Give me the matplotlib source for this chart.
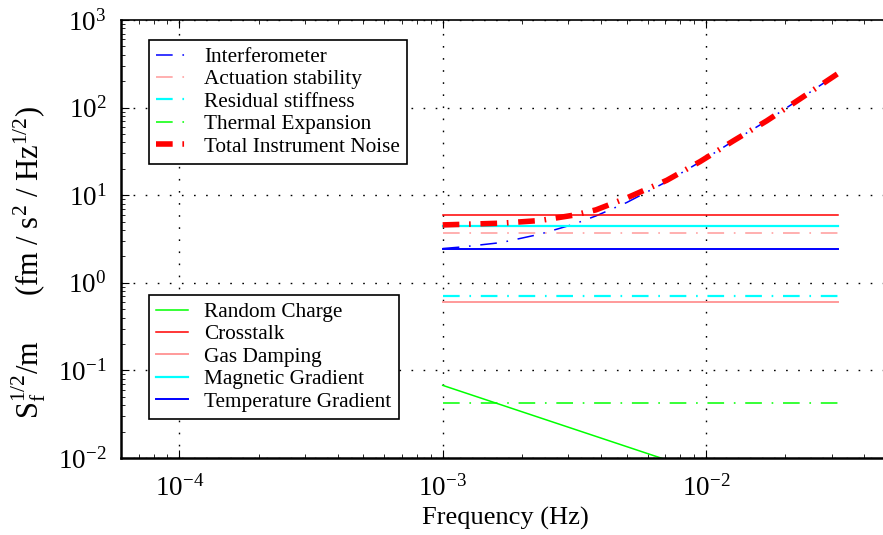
import matplotlib
matplotlib.use("Agg")
import matplotlib.pyplot as plt
from matplotlib.ticker import LogLocator, NullFormatter

plt.rcParams["font.family"] = ["Liberation Serif", "DejaVu Serif"]
plt.rcParams["mathtext.fontset"] = "custom"
plt.rcParams["mathtext.rm"] = "Liberation Serif"
plt.rcParams["mathtext.it"] = "Liberation Serif:italic"
plt.rcParams["lines.scale_dashes"] = False

# frequency band of the flat noise terms (Hz)
band = [1e-3, 3.16e-2]

# upper group (instrument contributions)
freq_ifo = [1e-3, 1.19e-3, 1.67e-3, 2.34e-3, 3.15e-3, 3.82e-3, 5e-3,
            7.1e-3, 9.5e-3, 1.27e-2, 1.7e-2, 2.27e-2, 3.16e-2]
interferometer = [2.46, 2.57, 2.88, 3.59, 4.67, 5.8, 8.25,
                  14.3, 24.0, 41.5, 70.4, 125, 243]
actuation = [3.7, 3.7]
residual_stiffness = [0.705, 0.705]
thermal_expansion = [0.043, 0.043]
total_noise = [4.58, 4.65, 4.79, 5.14, 5.92, 6.8, 9.3,
               14.8, 24.2, 41.7, 70.5, 125, 243]

# lower group (environmental contributions)
random_charge = [0.0675, 0.00213]
crosstalk = [6.0, 6.0]
gas_damping = [0.607, 0.607]
magnetic_gradient = [4.5, 4.5]
temperature_gradient = [2.42, 2.42]

PINK = "#ff9a9a"
DASHDOT = (0, (12, 7, 1.2, 7))

fig = plt.figure(figsize=(8.83, 5.35), dpi=100)
ax = fig.add_axes([121 / 883, 77 / 535, 769 / 883, 438 / 535])

# upper legend series
h1 = []
h1 += ax.loglog(freq_ifo, interferometer, color="blue", lw=1.1, ls=DASHDOT,
                label="Interferometer")
h1 += ax.loglog(band, actuation, color=PINK, lw=1.1, ls=DASHDOT,
                label="Actuation stability")
h1 += ax.loglog(band, residual_stiffness, color="cyan", lw=1.6, ls=DASHDOT,
                label="Residual stiffness")
h1 += ax.loglog(band, thermal_expansion, color="#00ff00", lw=1.1, ls=DASHDOT,
                label="Thermal Expansion")

# lower legend series
h2 = []
h2 += ax.loglog(band, random_charge, color="#00ff00", lw=1.1,
                label="Random Charge")
h2 += ax.loglog(band, crosstalk, color="red", lw=1.1, label="Crosstalk")
h2 += ax.loglog(band, gas_damping, color=PINK, lw=1.4, label="Gas Damping")
h2 += ax.loglog(band, magnetic_gradient, color="cyan", lw=1.6,
                label="Magnetic Gradient")
h2 += ax.loglog(band, temperature_gradient, color="blue", lw=1.4,
                label="Temperature Gradient")

h1 += ax.loglog(freq_ifo, total_noise, color="red", lw=4.0, ls=DASHDOT,
                label="Total Instrument Noise")

ax.set_xlim(6e-5, 5e-2)
ax.set_ylim(1e-2, 1e3)

ax.xaxis.set_major_locator(LogLocator(base=10, numticks=10))
ax.xaxis.set_minor_locator(LogLocator(base=10, subs=range(2, 10), numticks=20))
ax.xaxis.set_minor_formatter(NullFormatter())
ax.yaxis.set_minor_locator(LogLocator(base=10, subs=range(2, 10), numticks=20))
ax.yaxis.set_minor_formatter(NullFormatter())

ax.tick_params(which="both", direction="in", top=True, right=False,
               labelsize=19.5)
ax.tick_params(axis="x", which="major", length=6, width=0.8, pad=12)
ax.tick_params(axis="y", which="major", length=6, width=0.8, pad=10.5)
ax.tick_params(which="minor", length=3, width=0.6)
for side in ("left", "bottom"):
    ax.spines[side].set_linewidth(1.8)
ax.spines["top"].set_linewidth(1.2)
ax.spines["right"].set_visible(False)

ax.grid(True, which="major", color="black", ls=(0, (1.2, 7.5)), lw=1.0)

ax.set_xlabel("Frequency (Hz)", fontsize=19, labelpad=4)
ax.set_ylabel(r"S$_\mathrm{f}^{1/2}$/m      (fm / s$^2$ / Hz$^{1/2}$)",
              fontsize=22)
ax.yaxis.set_label_coords(-0.095, 0.447)

legend_kw = dict(fontsize=15.3, frameon=True, fancybox=False,
                 edgecolor="black", framealpha=1, borderpad=0.35,
                 labelspacing=0.12, handlelength=1.5, handletextpad=0.75,
                 borderaxespad=0)
leg1 = ax.legend(handles=h1, loc="upper left", bbox_to_anchor=(0.036, 0.955),
                 **legend_kw)
leg1.get_frame().set_linewidth(1.2)
ax.add_artist(leg1)
leg2 = ax.legend(handles=h2, loc="upper left", bbox_to_anchor=(0.036, 0.373),
                 **legend_kw)
leg2.get_frame().set_linewidth(1.2)

fig.savefig("out.png", dpi=100)
